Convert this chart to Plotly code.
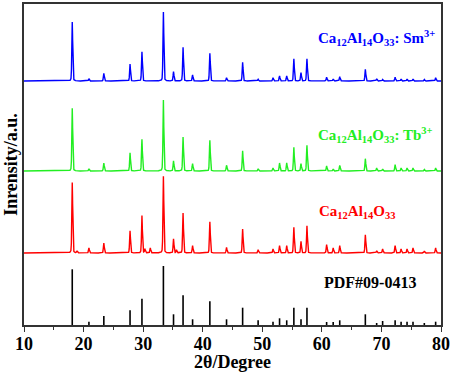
import numpy as np
import plotly.graph_objects as go

# ---- data ----
peak_pos = [18.1, 20.9, 23.4, 27.8, 29.8, 33.4, 35.1, 36.7, 38.3, 41.2, 44.0, 46.7, 49.3,
            51.8, 52.9, 54.1, 55.3, 56.5, 57.5, 60.8, 61.9, 63.0, 67.3, 69.2, 70.2,
            72.3, 73.3, 74.3, 75.3, 77.2, 79.1]
pdf_int = [55.7, 3.3, 9, 14.7, 26.3, 59, 10.7, 29.7, 5.7, 23.7, 5.7, 17.3, 4.7, 3.3, 6.7,
           4.7, 17.3, 5.7, 17.3, 3, 3, 4.7, 10.7, 2, 4, 4.7, 3.3, 3.3, 3.3, 2, 3.3]
sm_int = [59, 2.3, 7.7, 17, 29.3, 69, 9.3, 33.7, 6, 27.7, 3.3, 18.7, 1.7, 3.3, 5, 5, 22.3,
          8.3, 22.3, 3.7, 2, 4.3, 11.7, 2.3, 1.5, 3.7, 2, 2, 2, 1.5, 3.3]
tb_int = [62.7, 2.3, 8, 18.3, 31.7, 71, 10, 34, 7.3, 30.7, 5.7, 20.3, 2.3, 3, 8, 8, 23.7,
          7.3, 25.7, 5, 2, 5.7, 12.3, 3, 2, 6.3, 3, 3, 3, 1.5, 3]
host_int = [70.6, 5, 10, 22.3, 37.3, 76.7, 14, 40, 7.3, 31.3, 5.7, 24, 3.3, 4, 7.3, 7.3,
            25.7, 11.7, 27.3, 8.3, 5, 7.3, 18.3, 2.3, 4, 7.3, 4, 4, 5, 2, 5]
host_extra_pos = [18.9, 30.3, 31.2, 35.6]
host_extra_int = [2, 4, 5, 3]

offsets = {"pdf": 0, "host": 72, "tb": 154, "sm": 244}
x_ticks = [10, 20, 30, 40, 50, 60, 70, 80]

# ---- build pattern curves from the peak lists ----
two_theta = np.arange(10, 80.0001, 0.01)


def pattern(pos, inten, fwhm=0.17, eta=0.25):
    y = np.zeros_like(two_theta)
    for p, h in zip(pos, inten):
        d = (two_theta - p) / (fwhm / 2)
        g = np.exp(-np.log(2) * d ** 2)
        lor = 1 / (1 + d ** 2)
        y += h * ((1 - eta) * g + eta * lor)
    return y


sm_y = pattern(peak_pos, sm_int) + offsets["sm"]
tb_y = pattern(peak_pos, tb_int) + offsets["tb"]
host_y = pattern(peak_pos + host_extra_pos, host_int + host_extra_int) + offsets["host"]

stick_x, stick_y = [], []
for p, h in zip(peak_pos, pdf_int):
    stick_x += [p, p, None]
    stick_y += [offsets["pdf"], offsets["pdf"] + h, None]

fig = go.Figure()
fig.add_trace(go.Scatter(x=stick_x, y=stick_y, mode="lines",
                         line=dict(color="black", width=1.6), hoverinfo="skip"))
fig.add_trace(go.Scatter(x=two_theta, y=host_y, mode="lines",
                         line=dict(color="#ff0000", width=1.4)))
fig.add_trace(go.Scatter(x=two_theta, y=tb_y, mode="lines",
                         line=dict(color="#22ee22", width=1.4)))
fig.add_trace(go.Scatter(x=two_theta, y=sm_y, mode="lines",
                         line=dict(color="#0000ff", width=1.4)))

serif = "Liberation Serif, Times New Roman, serif"
labels = [
    ("Ca<sub>12</sub>Al<sub>14</sub>O<sub>33</sub>: Sm<sup>3+</sup>", 59.0, 287, "#0000ff", 15),
    ("Ca<sub>12</sub>Al<sub>14</sub>O<sub>33</sub>: Tb<sup>3+</sup>", 59.0, 190, "#22ee22", 15),
    ("Ca<sub>12</sub>Al<sub>14</sub>O<sub>33</sub>", 59.2, 113, "#ff0000", 15),
    ("PDF#09-0413", 60.0, 43, "black", 16),
]
for txt, x, y, c, s in labels:
    fig.add_annotation(x=x, y=y, text="<b>" + txt + "</b>", showarrow=False,
                       xanchor="left", yanchor="middle",
                       font=dict(family=serif, size=s, color=c))

fig.update_layout(
    width=454, height=372,
    margin=dict(l=24, r=13, t=4, b=47, autoexpand=False),
    paper_bgcolor="white", plot_bgcolor="white",
    showlegend=False,
    font=dict(family=serif, color="black"),
)
fig.update_xaxes(
    range=[10, 80], tickvals=x_ticks, automargin=False,
    showgrid=False, zeroline=False,
    showline=True, linecolor="#333333", linewidth=1.5, mirror=True,
    ticks="outside", ticklen=5, tickwidth=1.3, tickcolor="#333333",
    minor=dict(dtick=5, ticks="outside", ticklen=3, tickwidth=1.2, tickcolor="#333333"),
    tickfont=dict(family=serif, size=18, color="black", weight="bold"),
    ticklabelstandoff=-3,
    title=dict(text="<b>2θ/Degree</b>", font=dict(family=serif, size=18, color="black"),
               standoff=0),
)
fig.update_yaxes(
    range=[0, 321], showticklabels=False, ticks="", automargin=False,
    showgrid=False, zeroline=False,
    showline=True, linecolor="#333333", linewidth=1.5, mirror=True,
    title=dict(text="<b>Inrensity/a.u.</b>", font=dict(family=serif, size=18, color="black"),
               standoff=0),
)

fig.write_html("out.html", config={"displayModeBar": False},
               post_script="document.body.style.margin='0';")
